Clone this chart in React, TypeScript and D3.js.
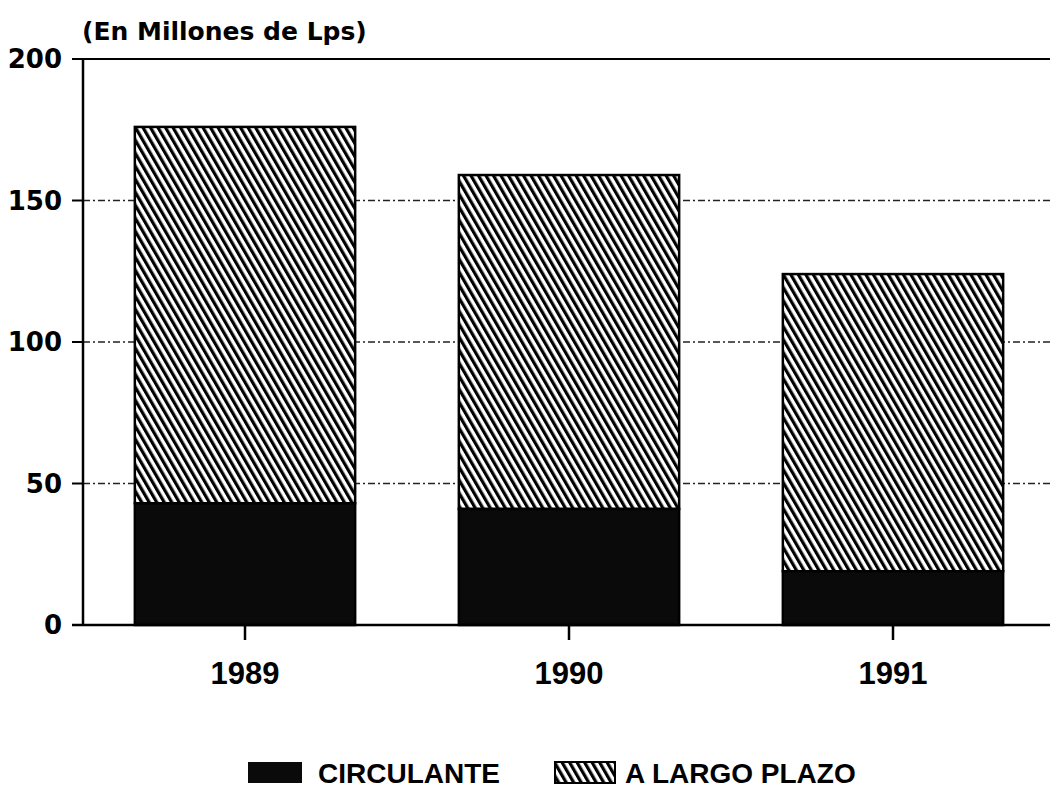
import React from "react";
import * as d3 from "d3";

// años y valores (millones de Lps)
const years = ["1989", "1990", "1991"];
const circulante = [43, 41, 19];
const largoPlazo = [133, 118, 105];
const yTicks = [0, 50, 100, 150, 200];
const gridTicks = [50, 100, 150];

const W = 1050;
const H = 800;

const App = () => {
  // x: bandas por año, ancho de barra ~220px
  const x = d3
    .scaleBand<string>()
    .domain(years)
    .range([83, 1055])
    .paddingInner(0.32)
    .paddingOuter(0.16);

  // y: 0 abajo (625px), 200 arriba (59px)
  const y = d3.scaleLinear().domain([0, 200]).range([625, 59]);

  const stacked = years.map((yr, i) => ({
    year: yr,
    c: circulante[i],
    l: largoPlazo[i],
  }));

  const numFont = "'DejaVu Sans', sans-serif";
  const textFont = "'Liberation Sans', Arial, sans-serif";

  return (
    <svg
      width={W}
      height={H}
      style={{ position: "absolute", left: 0, top: 0, background: "#fff" }}
    >
      <defs>
        <pattern
          id="hatch"
          patternUnits="userSpaceOnUse"
          width={6.5}
          height={6.5}
          patternTransform="rotate(-30)"
        >
          <rect width={6.5} height={6.5} fill="#fff" />
          <line x1={1.6} y1={0} x2={1.6} y2={6.5} stroke="#000" strokeWidth={3.2} />
        </pattern>
      </defs>

      {/* título */}
      <text
        x={82}
        y={40}
        fontFamily={numFont}
        fontWeight="bold"
        fontSize={25}
        fill="#000"
      >
        (En Millones de Lps)
      </text>

      {/* líneas de guía */}
      {gridTicks.map((t) => (
        <line
          key={t}
          x1={83}
          x2={W}
          y1={y(t)}
          y2={y(t)}
          stroke="#222"
          strokeWidth={1.4}
          strokeDasharray="7 3 2 3"
        />
      ))}

      {/* línea superior (200) */}
      <line x1={83} x2={W} y1={y(200)} y2={y(200)} stroke="#000" strokeWidth={2} />

      {/* barras */}
      {stacked.map((d) => {
        const bx = x(d.year)!;
        const bw = x.bandwidth();
        return (
          <g key={d.year}>
            <rect
              x={bx}
              y={y(d.c + d.l)}
              width={bw}
              height={y(d.c) - y(d.c + d.l)}
              fill="url(#hatch)"
              stroke="#000"
              strokeWidth={2.5}
            />
            <rect
              x={bx}
              y={y(d.c)}
              width={bw}
              height={y(0) - y(d.c)}
              fill="#0a0a0a"
              stroke="#000"
              strokeWidth={2.5}
            />
          </g>
        );
      })}

      {/* eje y */}
      <line x1={83} x2={83} y1={y(200)} y2={y(0)} stroke="#000" strokeWidth={2.5} />
      {yTicks.map((t) => (
        <g key={t}>
          <line x1={72} x2={83} y1={y(t)} y2={y(t)} stroke="#000" strokeWidth={2} />
          <text
            x={62}
            y={y(t)}
            dy="0.36em"
            textAnchor="end"
            fontFamily={numFont}
            fontWeight="bold"
            fontSize={26}
            fill="#000"
          >
            {t}
          </text>
        </g>
      ))}

      {/* eje x */}
      <line x1={72} x2={W} y1={y(0)} y2={y(0)} stroke="#000" strokeWidth={2.5} />
      {years.map((yr) => {
        const cx = x(yr)! + x.bandwidth() / 2;
        return (
          <g key={yr}>
            <line x1={cx} x2={cx} y1={y(0)} y2={y(0) + 15} stroke="#000" strokeWidth={2.5} />
            <text
              x={cx}
              y={684}
              textAnchor="middle"
              fontFamily={textFont}
              fontWeight="bold"
              fontSize={31}
              fill="#000"
            >
              {yr}
            </text>
          </g>
        );
      })}

      {/* leyenda */}
      <rect x={248} y={762} width={54} height={21} fill="#0a0a0a" />
      <text
        x={318}
        y={783}
        fontFamily={textFont}
        fontWeight="bold"
        fontSize={28}
        fill="#000"
      >
        CIRCULANTE
      </text>
      <rect
        x={555}
        y={762}
        width={60}
        height={21}
        fill="url(#hatch)"
        stroke="#000"
        strokeWidth={2}
      />
      <text
        x={625}
        y={783}
        fontFamily={textFont}
        fontWeight="bold"
        fontSize={28}
        fill="#000"
      >
        A LARGO PLAZO
      </text>
    </svg>
  );
};

export default App;
